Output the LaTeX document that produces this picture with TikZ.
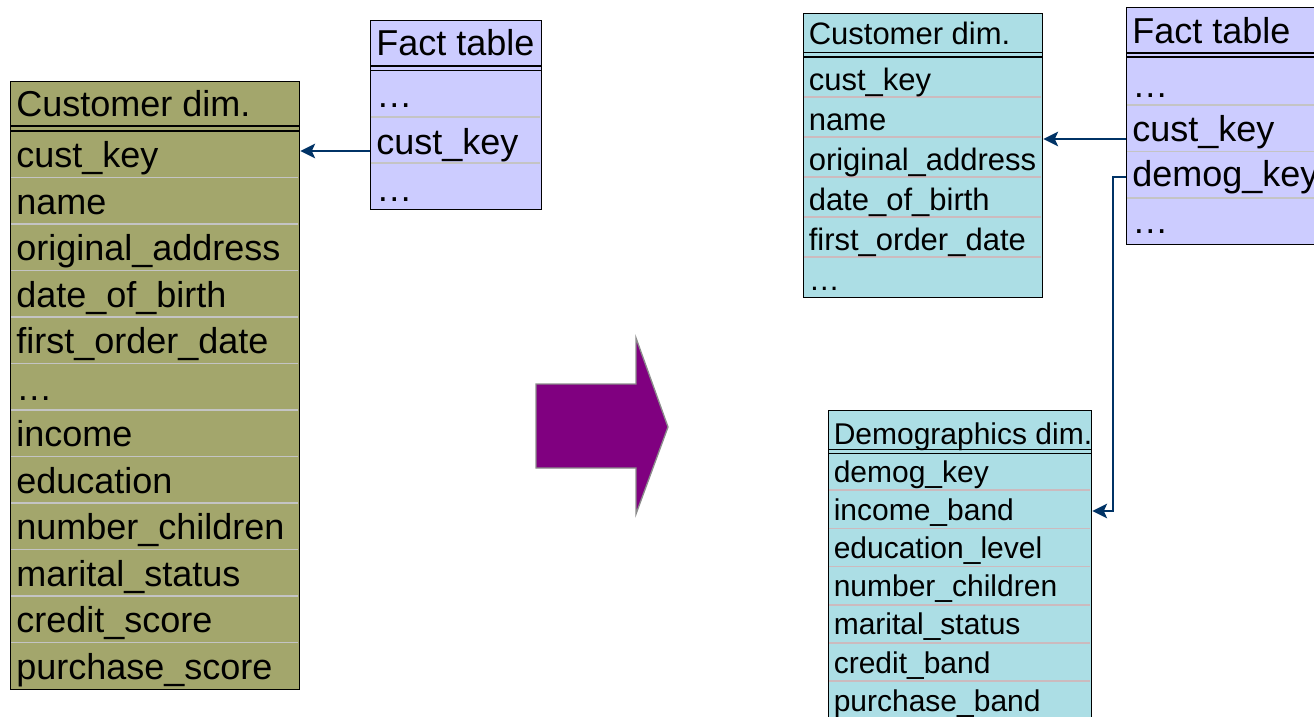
\documentclass[tikz,border=0pt]{standalone}
\usepackage{fontspec}
\setmainfont{Liberation Sans}
\usetikzlibrary{arrows.meta}

\definecolor{olivefill}{RGB}{163,166,108}
\definecolor{tealfill}{RGB}{172,222,229}
\definecolor{factfill}{RGB}{204,204,255}
\definecolor{greysep}{RGB}{196,196,196}
\definecolor{pinksep}{RGB}{204,186,190}
\definecolor{fkblue}{RGB}{0,51,102}
\definecolor{purplefill}{RGB}{128,0,128}

\begin{document}
\begin{tikzpicture}[x=0.75pt,y=0.75pt,yscale=-1,xscale=1,
  tbl/.style={draw=black, line width=1.1pt, anchor=north west, inner sep=0pt},
  sepline/.style={draw=greysep, line width=1pt},
  sepline2/.style={draw=pinksep, line width=1pt},
  hdrline/.style={draw=black, line width=1.1pt},
  celltxt/.style={font=\fontsize{27}{32}\selectfont, anchor=base west, inner sep=0pt},
  celltxtm/.style={font=\fontsize{23.25}{28}\selectfont, anchor=base west, inner sep=0pt},
  celltxts/.style={font=\fontsize{22.5}{27}\selectfont, anchor=base west, inner sep=0pt},
  fk/.style={draw=fkblue, line width=1.4pt, -{Stealth[length=11pt,width=11pt,inset=2.5pt]}},
  bigarrow/.style={fill=purplefill, draw={rgb,255:red,140;green,140;blue,140}, line width=1pt}
]
\useasboundingbox (0,0) rectangle (1314,717);

%Shape: Table [id:lcust] 
\node[tbl, fill=olivefill, minimum width=216.75pt, minimum height=456pt] (lcust) at (10,81) {};
%Straight Lines 
\draw[sepline] (11,177.5) -- (298,177.5) (11,224) -- (298,224) (11,270.5) -- (298,270.5) (11,317) -- (298,317) (11,363.5) -- (298,363.5) (11,410) -- (298,410) (11,456.5) -- (298,456.5) (11,503) -- (298,503) (11,549.5) -- (298,549.5) (11,596) -- (298,596) (11,642.5) -- (298,642.5) ;
\draw[hdrline] (10,126) -- (299,126) (10,131) -- (299,131) ;

% Text Node
\node[celltxt] (lchead) at (16,116.5) {Customer dim.};
\node[celltxt] (lckey) at (16,167.5) {cust\_key};
\node[celltxt] (lcname) at (16,214) {name};
\node[celltxt] (lcaddr) at (16,260.5) {original\_address};
\node[celltxt] (lcbirth) at (16,307) {date\_of\_birth};
\node[celltxt] (lcorder) at (16,353.5) {first\_order\_date};
\node[celltxt] (lcdots) at (16,400) {…};
\node[celltxt] (lcincome) at (16,446.5) {income};
\node[celltxt] (lcedu) at (16,493) {education};
\node[celltxt] (lcchild) at (16,539.5) {number\_children};
\node[celltxt] (lcmarital) at (16,586) {marital\_status};
\node[celltxt] (lccredit) at (16,632.5) {credit\_score};
\node[celltxt] (lcpurch) at (16,679) {purchase\_score};

%Shape: Table [id:lfact] 
\node[tbl, fill=factfill, minimum width=128.25pt, minimum height=141.75pt] (lfact) at (370,20) {};
\draw[sepline] (371,117) -- (540,117) (371,163) -- (540,163) ;
\draw[hdrline] (370,66) -- (541,66) (370,70.5) -- (541,70.5) ;

% Text Node
\node[celltxt] (lfhead) at (376,56) {Fact table};
\node[celltxt] (lfdots1) at (376,108) {…};
\node[celltxt] (lfkey) at (376,154) {cust\_key};
\node[celltxt] (lfdots2) at (376,201) {…};

%Shape: Block Arrow 
\draw[bigarrow] (536,384) -- (636,384) -- (636,338) -- (668,427) -- (636,514) -- (636,468) -- (536,468) -- cycle ;

%Shape: Table [id:rcust] 
\node[tbl, fill=tealfill, minimum width=179.25pt, minimum height=213pt] (rcust) at (803,13) {};
\draw[sepline2] (804,97) -- (1041,97) (804,137) -- (1041,137) (804,177) -- (1041,177) (804,217) -- (1041,217) (804,257) -- (1041,257) ;
\draw[hdrline] (803,52.5) -- (1042,52.5) (803,57) -- (1042,57) ;

% Text Node
\node[celltxtm] (rchead) at (808.5,45) {Customer dim.};
\node[celltxtm] (rckey) at (808.5,90.5) {cust\_key};
\node[celltxtm] (rcname) at (808.5,130.5) {name};
\node[celltxtm] (rcaddr) at (808.5,170.5) {original\_address};
\node[celltxtm] (rcbirth) at (808.5,210.5) {date\_of\_birth};
\node[celltxtm] (rcorder) at (808.5,250.5) {first\_order\_date};
\node[celltxtm] (rcdots) at (808.5,290.5) {…};

%Shape: Table [id:rfact] 
\node[tbl, fill=factfill, minimum width=160.5pt, minimum height=177.75pt] (rfact) at (1126,7) {};
\draw[sepline] (1127,105) -- (1330,105) (1127,151.5) -- (1330,151.5) (1127,198) -- (1330,198) ;
\draw[hdrline] (1126,53) -- (1340,53) (1126,57) -- (1340,57) ;

% Text Node
\node[celltxt] (rfhead) at (1132,44) {Fact table};
\node[celltxt] (rfdots1) at (1132,98) {…};
\node[celltxt] (rfkey) at (1132,142) {cust\_key};
\node[celltxt] (rfdemog) at (1132,186) {demog\_key};
\node[celltxt] (rfdots2) at (1132,233) {…};

%Shape: Table [id:demog] 
\node[tbl, fill=tealfill, minimum width=197.25pt, minimum height=236.25pt] (demog) at (828,410) {};
\draw[sepline2] (829,490) -- (1090,490) (829,528.5) -- (1090,528.5) (829,566.5) -- (1090,566.5) (829,605) -- (1090,605) (829,643) -- (1090,643) (829,681) -- (1090,681) ;
\draw[hdrline] (828,449.5) -- (1091,449.5) (828,453.5) -- (1091,453.5) ;

% Text Node
\node[celltxts] (dhead) at (833.5,444) {Demographics dim.};
\node[celltxts] (dkey) at (833.5,482) {demog\_key};
\node[celltxts] (dincome) at (833.5,520) {income\_band};
\node[celltxts] (dedu) at (833.5,558.5) {education\_level};
\node[celltxts] (dchild) at (833.5,596.5) {number\_children};
\node[celltxts] (dmarital) at (833.5,634.5) {marital\_status};
\node[celltxts] (dcredit) at (833.5,673) {credit\_band};
\node[celltxts] (dpurch) at (833.5,711) {purchase\_band};

%Connectors 
\draw[fk] ([yshift=-2.25pt]lfact.west |- lfkey.base) -- ([yshift=-2.25pt]lcust.east |- lfkey.base) ;
\draw[fk] ([yshift=-2.25pt]rfact.west |- rfkey.base) -- ([yshift=-2.25pt]rcust.east |- rfkey.base) ;
\draw[fk, line width=1.1pt] ([yshift=-6.75pt]rfact.west |- rfdemog.base) -- ++(-13,0) |- ([yshift=-6.75pt]demog.east |- dincome.base) ;

\end{tikzpicture}
\end{document}
